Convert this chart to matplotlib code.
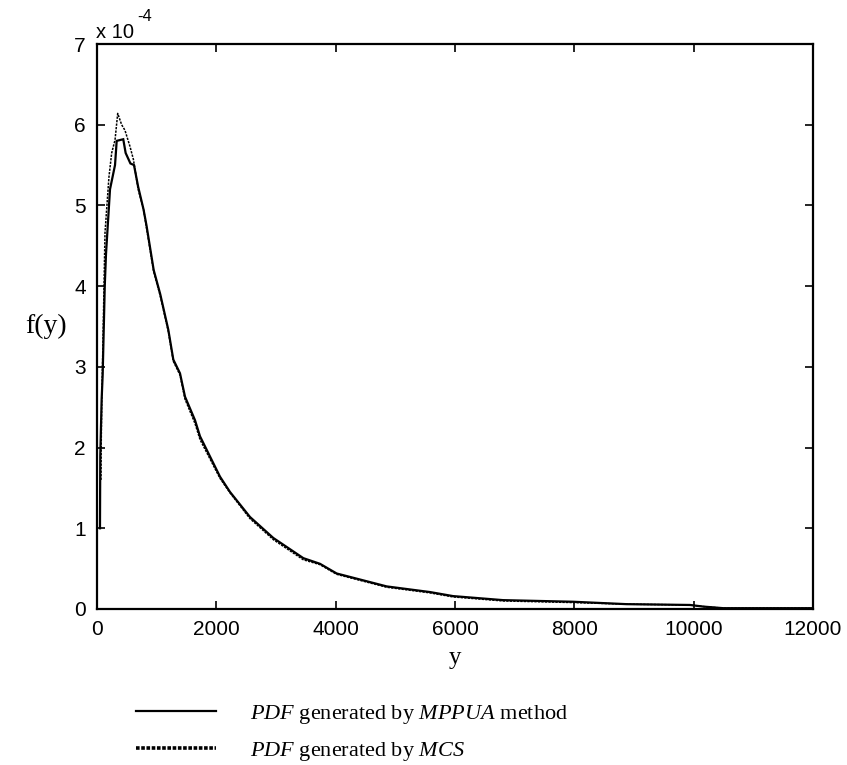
import matplotlib
matplotlib.use("Agg")
import matplotlib.pyplot as plt
from matplotlib.lines import Line2D

plt.rcParams['font.family'] = ['Liberation Sans', 'DejaVu Sans']
plt.rcParams['mathtext.fontset'] = 'custom'
plt.rcParams['mathtext.rm'] = 'Liberation Serif'
plt.rcParams['mathtext.it'] = 'Liberation Serif:italic'

# MPPUA method PDF (values in units of 1e-4)
mppua_x = [50, 52, 55, 78, 95, 130, 151, 218, 302, 330, 440, 480, 560, 620, 690, 780, 830,
           950, 1060, 1195, 1279, 1391, 1475, 1642, 1726, 2061, 2229, 2564, 2955, 3458,
           3737, 4017, 4855, 5581, 5966, 6804, 7977, 8877, 9938, 10160, 10500, 12000]
mppua_y = [1.0, 1.4, 1.9, 2.6, 2.9, 4.0, 4.4, 5.2, 5.5, 5.8, 5.82, 5.65, 5.52, 5.5, 5.23,
           4.95, 4.75, 4.2, 3.9, 3.46, 3.09, 2.92, 2.63, 2.34, 2.14, 1.64, 1.45, 1.14,
           0.88, 0.63, 0.56, 0.44, 0.28, 0.21, 0.16, 0.11, 0.09, 0.06, 0.05, 0.03, 0.01, 0.01]

# Monte Carlo simulation PDF (values in units of 1e-4)
mcs_x = [67, 70, 80, 100, 134, 200, 246, 302, 347, 413, 469, 553, 610, 690, 780, 830,
         950, 1060, 1195, 1279, 1391, 1475, 1642, 1726, 2061, 2229, 2564, 2955, 3458,
         3737, 4017, 4855, 5581, 5966, 6804, 7977, 8877, 9938, 10160, 10500, 12000]
mcs_y = [1.6, 2.0, 2.6, 3.3, 4.66, 5.35, 5.65, 5.81, 6.14, 6.0, 5.93, 5.73, 5.57, 5.2,
         4.95, 4.72, 4.18, 3.88, 3.44, 3.07, 2.9, 2.6, 2.3, 2.1, 1.62, 1.44, 1.12,
         0.86, 0.61, 0.55, 0.43, 0.27, 0.2, 0.15, 0.1, 0.08, 0.06, 0.05, 0.03, 0.01, 0.01]

x_ticks = [0, 2000, 4000, 6000, 8000, 10000, 12000]
y_ticks = [0, 1, 2, 3, 4, 5, 6, 7]
labels = [r"$\it{PDF}$ generated by $\it{MPPUA}$ method",
          r"$\it{PDF}$ generated by $\it{MCS}$"]

fig = plt.figure(figsize=(8.47, 7.65), dpi=100)
ax = fig.add_axes([97/847, 1-609/765, (813-97)/847, (609-44)/765])

ax.plot(mppua_x, mppua_y, color='black', lw=1.6, solid_joinstyle='miter')
ax.plot(mcs_x, mcs_y, color='black', lw=1.1, linestyle=(0, (1.5, 0.8)))

ax.set_xlim(0, 12000)
ax.set_ylim(0, 7)
ax.set_xticks(x_ticks)
ax.set_yticks(y_ticks)
ax.set_xticklabels([str(v) for v in x_ticks])
ax.set_yticklabels([str(v) for v in y_ticks])
ax.tick_params(direction='in', length=6, width=1.2, top=True, right=True,
               labelsize=15, pad=8, colors='black')
for s in ax.spines.values():
    s.set_linewidth(1.6)

ax.set_xlabel('y', family='Liberation Serif', fontsize=18, labelpad=6)
ax.set_ylabel('f(y)', family='Liberation Serif', fontsize=20, rotation=0, labelpad=20,
              va='center')
fig.text(96/847, 1-38/765, 'x 10', fontsize=14.5, ha='left', va='baseline')
fig.text(137/847, 1-21/765, '-4', fontsize=12, ha='left', va='baseline')

h1 = Line2D([], [], color='black', lw=1.6)
h2 = Line2D([], [], color='black', lw=2.6, linestyle=(0, (1.0, 0.45)))
fig.legend([h1, h2], labels, loc='upper left', bbox_to_anchor=(136/847, 1-703/765),
           frameon=False, prop={'family': 'Liberation Serif', 'size': 16},
           handlelength=3.6, handletextpad=1.55, labelspacing=0.62, borderaxespad=0,
           borderpad=0)

fig.savefig('out.png', dpi=100)
